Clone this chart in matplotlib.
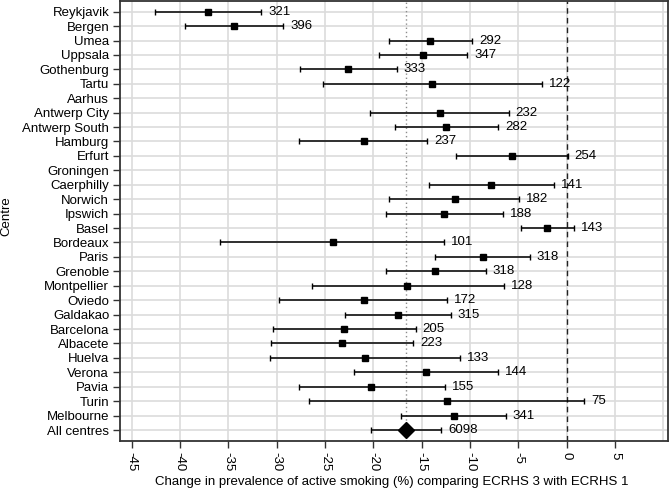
import matplotlib
matplotlib.use('Agg')
import matplotlib.pyplot as plt

plt.rcParams['font.family'] = ['Liberation Sans', 'DejaVu Sans']
plt.rcParams['font.size'] = 9.5

# centres, top to bottom
centres = ['Reykjavik', 'Bergen', 'Umea', 'Uppsala', 'Gothenburg', 'Tartu', 'Aarhus',
           'Antwerp City', 'Antwerp South', 'Hamburg', 'Erfurt', 'Groningen', 'Caerphilly',
           'Norwich', 'Ipswich', 'Basel', 'Bordeaux', 'Paris', 'Grenoble', 'Montpellier',
           'Oviedo', 'Galdakao', 'Barcelona', 'Albacete', 'Huelva', 'Verona', 'Pavia',
           'Turin', 'Melbourne', 'All centres']

# change in prevalence (%) with 95% CI, None where no estimate
est = [-37.1, -34.4, -14.1, -14.9, -22.6, -13.9, None, -13.1, -12.5, -21.0, -5.7, None,
       -7.8, -11.6, -12.7, -2.0, -24.2, -8.7, -13.6, -16.5, -21.0, -17.4, -23.0, -23.2,
       -20.9, -14.6, -20.2, -12.4, -11.7, -16.6]
lo = [-42.6, -39.5, -18.4, -19.4, -27.6, -25.2, None, -20.3, -17.8, -27.7, -11.4, None,
      -14.2, -18.4, -18.7, -4.7, -35.8, -13.6, -18.7, -26.3, -29.7, -22.9, -30.4, -30.6,
      -30.7, -22.0, -27.7, -26.6, -17.1, -20.2]
hi = [-31.6, -29.3, -9.8, -10.3, -17.6, -2.6, None, -6.0, -7.1, -14.4, 0.1, None,
      -1.3, -4.9, -6.6, 0.8, -12.7, -3.8, -8.4, -6.5, -12.4, -12.0, -15.6, -15.9,
      -11.0, -7.1, -12.6, 1.8, -6.3, -13.0]
n = [321, 396, 292, 347, 333, 122, None, 232, 282, 237, 254, None, 141, 182, 188, 143,
     101, 318, 318, 128, 172, 315, 205, 223, 133, 144, 155, 75, 341, 6098]

xticks = [-45, -40, -35, -30, -25, -20, -15, -10, -5, 0, 5]

fig = plt.figure(figsize=(6.69, 4.90), dpi=100)
ax = fig.add_axes([0.1798, 0.1006, 0.8183, 0.8974])

# grid
for x in xticks + [10]:
    ax.axvline(x, color='#dcdcdc', lw=1.2, zorder=0)
for i in range(len(centres)):
    ax.axhline(i, color='#dcdcdc', lw=1.2, zorder=0)

# overall estimate and zero lines
ax.axvline(est[-1], color='#8c8c8c', lw=1, ls=(0, (1, 2)), zorder=1)
ax.axvline(0, color='#222222', lw=1, ls=(0, (4, 3)), zorder=1)

for i in range(len(centres)):
    if est[i] is None:
        continue
    last = i == len(centres) - 1
    ax.errorbar(est[i], i, xerr=[[est[i] - lo[i]], [hi[i] - est[i]]],
                fmt='D' if last else 's', color='black',
                markersize=8 if last else 4.5, elinewidth=1.1, capsize=2.5,
                capthick=1, zorder=3)
    ax.annotate(str(n[i]), (hi[i], i), xytext=(5, 0), textcoords='offset points',
                va='center', ha='left', fontsize=9.5)

ax.set_xlim(-46.16, 10.44)
ax.set_ylim(len(centres) - 1 + 0.74, -0.74)
ax.set_xticks(xticks)
ax.set_xticklabels([str(x) for x in xticks], rotation=-90)
ax.set_yticks(range(len(centres)))
ax.set_yticklabels(centres)
ax.tick_params(length=5, width=1, color='#333333', labelsize=9.5, pad=3)
for s in ax.spines.values():
    s.set_color('#333333')
    s.set_linewidth(1.3)

fig.text(392 / 669, 1 - 482 / 490,
         'Change in prevalence of active smoking (%) comparing ECRHS 3 with ECRHS 1',
         ha='center', va='center', fontsize=9.5)
fig.text(6 / 669, 1 - 216 / 490, 'Centre', rotation=90, ha='center', va='center',
         fontsize=9.5)

plt.savefig('out.png', dpi=100)
